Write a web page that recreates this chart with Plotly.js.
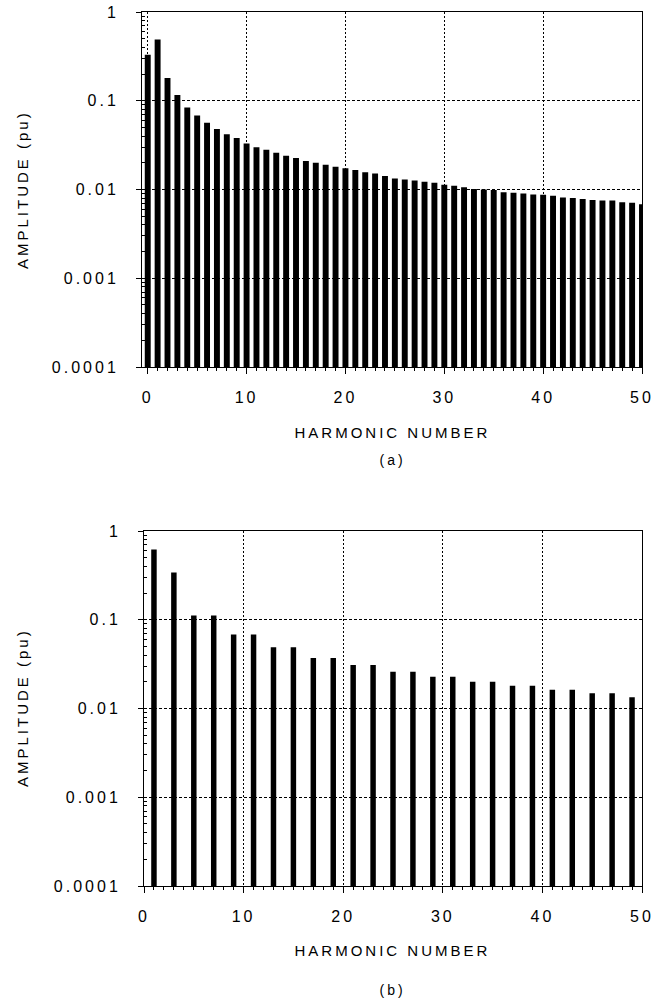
<!DOCTYPE html>
<html>
<head>
<meta charset="utf-8">
<script src="https://cdn.plot.ly/plotly-3.0.1.min.js"></script>
<style>
  html, body { margin: 0; padding: 0; background: #fff; }
  #chart { width: 654px; height: 1005px; }
  .main-svg text { letter-spacing: 3px; }
</style>
</head>
<body>
<div id="chart"></div>
<script>
// ---- Data ----
const harmonicsA = [0,1,2,3,4,5,6,7,8,9,10,11,12,13,14,15,16,17,18,19,20,
  21,22,23,24,25,26,27,28,29,30,31,32,33,34,35,36,37,38,39,40,
  41,42,43,44,45,46,47,48,49,50];
const amplitudeA = [0.33,0.49,0.18,0.116,0.084,0.068,0.0565,0.048,0.042,0.038,0.033,
  0.030,0.028,0.026,0.024,0.0226,0.021,0.020,0.019,0.018,0.0174,
  0.0166,0.0156,0.0151,0.0142,0.0133,0.0130,0.0126,0.0122,0.0119,0.0113,
  0.0110,0.0106,0.0101,0.0100,0.0099,0.0093,0.0092,0.0090,0.0088,0.0087,
  0.0085,0.0081,0.0080,0.0078,0.0076,0.0075,0.0075,0.0072,0.0071,0.0068];

const harmonicsB = [1,3,5,7,9,11,13,15,17,19,21,23,25,27,29,31,33,35,37,39,41,43,45,47,49];
const amplitudeB = [0.62,0.34,0.112,0.112,0.068,0.068,0.049,0.049,0.037,0.037,
  0.031,0.031,0.026,0.026,0.0228,0.0228,0.020,0.020,0.018,0.018,
  0.0163,0.0163,0.0149,0.0149,0.0134];

const yTickVals = [0.0001,0.001,0.01,0.1,1];
const yTickText = ['0.0001','0.001','0.01','0.1','1'];
const xTickVals = [0,10,20,30,40,50];

const yTitle = 'AMPLITUDE (pu)';
const xTitle = 'HARMONIC NUMBER';
const labelA = '(a)';
const labelB = '(b)';

// minor log tick positions (2..9 within each decade)
const yMinorVals = [];
for (let d = 0; d < yTickVals.length - 1; d++) {
  for (let m = 2; m <= 9; m++) yMinorVals.push(+(yTickVals[d] * m).toPrecision(3));
}

// ---- Layout helpers ----
const W = 654, H = 1005;
const px = v => v / W;
const py = v => 1 - v / H;
const FONT = '"Liberation Sans", Arial, Helvetica, sans-serif';

function xAxis(dom, range, anchor) {
  return {
    domain: dom, range: range, anchor: anchor,
    tickmode: 'array', tickvals: xTickVals,
    ticks: 'outside', ticklen: 6, tickwidth: 1, tickcolor: '#000',
    ticklabelstandoff: 10,
    minor: { dtick: 1, tick0: 0, ticks: 'outside', ticklen: 3, tickwidth: 1, tickcolor: '#000', showgrid: false },
    showgrid: true, gridcolor: '#000', gridwidth: 1, griddash: '2px,2px',
    showline: true, linecolor: '#000', linewidth: 1, mirror: true,
    zeroline: false,
    tickfont: { family: FONT, size: 16, color: '#000' },
    fixedrange: true
  };
}
function yAxis(dom, anchor) {
  return {
    domain: dom, type: 'log', range: [-4, 0], anchor: anchor,
    tickmode: 'array', tickvals: yTickVals, ticktext: yTickText,
    ticks: 'outside', ticklen: 5, tickwidth: 1, tickcolor: '#000',
    ticklabelstandoff: 14,
    minor: { tickmode: 'array', tickvals: yMinorVals, ticks: 'inside', ticklen: 3, tickwidth: 1, tickcolor: '#000', showgrid: false },
    showgrid: true, gridcolor: '#000', gridwidth: 1, griddash: '3px,2px',
    showline: true, linecolor: '#000', linewidth: 1, mirror: true,
    zeroline: false,
    tickfont: { family: FONT, size: 16, color: '#000' },
    fixedrange: true
  };
}

const traces = [
  { type: 'bar', x: harmonicsA, y: amplitudeA, xaxis: 'x', yaxis: 'y',
    width: 0.6, marker: { color: '#000', line: { width: 0 } }, hoverinfo: 'skip' },
  { type: 'bar', x: harmonicsB, y: amplitudeB, xaxis: 'x2', yaxis: 'y2',
    width: 0.55, marker: { color: '#000', line: { width: 0 } }, hoverinfo: 'skip' }
];

const ann = (text, x, y, size, angle) => ({
  text: text, xref: 'paper', yref: 'paper', x: x, y: y,
  xanchor: 'center', yanchor: 'middle', showarrow: false,
  textangle: angle || 0,
  font: { family: FONT, size: size, color: '#000' }
});

const layout = {
  width: W, height: H,
  margin: { l: 0, r: 0, t: 0, b: 0, pad: 0 },
  paper_bgcolor: '#fff', plot_bgcolor: '#fff',
  showlegend: false,
  xaxis: xAxis([px(142), px(642)], [-0.58, 50], 'y'),
  yaxis: yAxis([py(367), py(12)], 'x'),
  xaxis2: xAxis([px(144), px(642)], [0, 50], 'y2'),
  yaxis2: yAxis([py(886), py(531)], 'x2'),
  annotations: [
    ann(yTitle, px(22), py(190), 15, -90),
    ann(xTitle, px(393), py(432), 15),
    ann(labelA, px(392), py(460), 14),
    ann(yTitle, px(22), py(708), 15, -90),
    ann(xTitle, px(393), py(950), 15),
    ann(labelB, px(392), py(990), 14)
  ]
};

Plotly.newPlot('chart', traces, layout, { staticPlot: true, displayModeBar: false });
</script>
</body>
</html>
